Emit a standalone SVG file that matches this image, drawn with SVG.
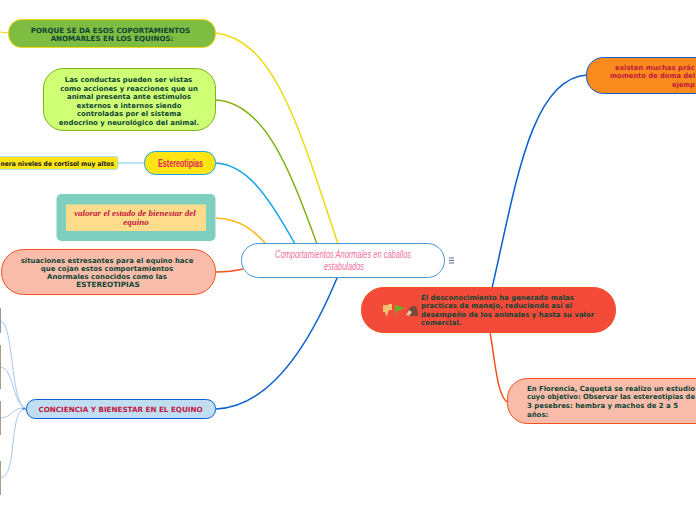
<svg xmlns="http://www.w3.org/2000/svg" width="696" height="520" viewBox="0 0 696 520">
<style>
.t{font-family:"DejaVu Sans",Verdana,sans-serif;font-weight:700;font-size:6.95px;text-anchor:middle;fill:#0f4535}
.u{font-size:7.1px}
.l{text-anchor:start}
.r{fill:#c2173f}
.c{fill:none;stroke-width:1.5}
.s{fill:none;stroke:#8fb8ee;stroke-width:.8}
.h{font-family:"Liberation Sans",sans-serif;font-style:italic;font-size:10.5px;text-anchor:middle;fill:#f06f9f}
.v{font-family:"Liberation Serif",serif;font-size:9px;font-weight:700;font-style:italic;text-anchor:middle;fill:#c2173f}
</style>
<rect width="696" height="520" fill="#fff"/>
<g id="connectors">
<path class="c" stroke="#f0d90e" d="M216 33C275 40 300 130 338 244"/>
<path class="c" stroke="#7fb211" d="M216 100C265 103 290 170 317 244"/>
<path class="c" stroke="#10a5ea" d="M216 163C245 165 265 190 295 244"/>
<path class="c" stroke="#fdb813" d="M216 218C238 219 252 228 266 244"/>
<path class="c" stroke="#f4511e" d="M216 272C228 272 235 271 243 269"/>
<path class="c" stroke="#0b5fd0" d="M216 409C265 407 305 355 337 278"/>
<path class="c" stroke="#0b5fd0" d="M492 288C515 190 530 78 587 75"/>
<path class="c" stroke="#f4511e" d="M490 332C495 360 497 395 507 402"/>
<path fill="none" stroke="#f0d90e" stroke-width="1" d="M0 32L9 33"/>
<path fill="none" stroke="#a8dcf2" stroke-width="1.500" d="M118 163H145"/>
<path class="s" d="M25 408C10 402 14 322 0 321"/>
<path class="s" d="M25 408C12 402 14 368 0 367"/>
<path class="s" d="M25 408C14 406 12 418 0 418"/>
<path class="s" d="M25 408C8 412 18 478 0 478"/>
<path fill="none" stroke="#0b5fd0" stroke-width="1" d="M22 409H27"/>
</g>
<g id="strips">
<rect x="0" y="308" width="1" height="25" fill="#8f9a9c"/>
<rect x="0" y="345" width="1" height="44" fill="#a59c8b"/>
<rect x="0" y="401" width="1" height="34" fill="#a59c8b"/>
<rect x="0" y="461" width="1" height="34" fill="#a59c8b"/>
</g>
<g id="n-central">
<rect x="241.500" y="243.500" width="203" height="34" rx="17" fill="#fff" stroke="#4a96d2"/>
<text class="h" x="343" y="258" textLength="136" lengthAdjust="spacingAndGlyphs">Comportamientos Anormales en caballos</text>
<text class="h" x="344" y="270" textLength="40" lengthAdjust="spacingAndGlyphs">estabulados</text>
<path fill="none" stroke="#4a5a8a" stroke-width=".9" d="M449 258H454M449 260.500H454M449 263H454"/>
</g>
<g id="n-porque">
<rect x="8.500" y="19.500" width="207" height="28" rx="13" fill="#7fbc42" stroke="#f0d90e"/>
<text class="t u" x="110.500" y="32.500">PORQUE SE DA ESOS COPORTAMIENTOS</text>
<text class="t u" x="112" y="40.500">ANOMARLES EN LOS EQUINOS:</text>
</g>
<g id="n-conductas">
<rect x="43.500" y="68.500" width="172" height="62" rx="20" fill="#ceff75" stroke="#7fb211"/>
<text class="t" x="128.500" y="81.500">Las conductas pueden ser vistas</text>
<text class="t" x="129" y="90.500">como acciones y reacciones que un</text>
<text class="t" x="129" y="98.500">animal presenta ante estímulos</text>
<text class="t" x="129" y="107.500">externos e internos siendo</text>
<text class="t" x="129" y="115.500">controladas por el sistema</text>
<text class="t" x="129" y="124.500">endocrino y neurológico del animal.</text>
</g>
<g id="n-cortisol">
<rect x="-20" y="156.500" width="138" height="13" rx="3" fill="#ffe414" stroke="#a8dcf2"/>
<text class="t l" x="0.500" y="165.500" textLength="113.500" lengthAdjust="spacingAndGlyphs" style="font-size:6.600px;fill:#14202a">nera niveles de cortisol muy altos</text>
</g>
<g id="n-estereotipias">
<rect x="144.500" y="151.500" width="71" height="23" rx="11" fill="#ffe414" stroke="#10a5ea"/>
<text x="180.500" y="166.500" textLength="45" lengthAdjust="spacingAndGlyphs" font-family="Liberation Sans,sans-serif" font-size="10.500" font-weight="700" text-anchor="middle" fill="#e0245e">Estereotipias</text>
</g>
<g id="n-valorar">
<rect x="56.500" y="194" width="159" height="47" rx="5" fill="#7fcfbf"/>
<rect x="66" y="204.500" width="140" height="26.500" fill="#ffdc8c"/>
<text class="v" x="135" y="216">valorar el estado de bienestar del</text>
<text class="v" x="136" y="225">equino</text>
</g>
<g id="n-situaciones">
<rect x="1.500" y="249.500" width="214" height="45" rx="22" fill="#f9bcaa" stroke="#f4511e"/>
<text class="t" x="107" y="262.500">situaciones estresantes para el equino hace</text>
<text class="t" x="107" y="270.500">que cojan estos comportamientos</text>
<text class="t" x="107" y="279">Anormales conocidos como las</text>
<text class="t" x="108" y="287" style="font-size:7.250px">ESTEREOTIPIAS</text>
</g>
<g id="n-conciencia">
<rect x="26.500" y="399.500" width="189" height="19" rx="9" fill="#c0ddf2" stroke="#0b5fd0"/>
<text class="t r" x="120.500" y="412" style="font-size:7.200px">CONCIENCIA Y BIENESTAR EN EL EQUINO</text>
</g>
<g id="n-desconocimiento">
<rect x="361.500" y="287.500" width="254" height="45" rx="22" fill="#f44a3a" stroke="#f4511e"/>
<text class="t l" x="421" y="300">El desconocimiento ha generado malas</text>
<text class="t l" x="421" y="308">practicas de manejo, reduciendo así el</text>
<text class="t l" x="421" y="317">desempeño de los animales y hasta su valor</text>
<text class="t l" x="421" y="325">comercial.</text>
<path fill="#f5c26b" d="M383 305h5l1-1h3v6h-3l-2 6h-1l-1-4h-2z"/>
<path fill="#5fb81e" d="M395 305l10 3-10 4z"/>
<rect x="394.500" y="305" width="1" height="11" fill="#a08050"/>
<path fill="#7a4a36" d="M407 316c-1-5 3-10 7-10 3 0 4 4 4 10z"/>
<path fill="#e8c4a0" d="M406 315l3-5 3 2-3 4z"/>
</g>
<g id="n-practicas">
<rect x="586.500" y="57.500" width="130" height="36" rx="17" fill="#f98a1e" stroke="#0b5fd0"/>
<text class="t r l" x="615" y="70" textLength="80" lengthAdjust="spacingAndGlyphs">existen muchas prác</text>
<text class="t r l" x="610" y="78" textLength="85" lengthAdjust="spacingAndGlyphs">momento de doma del</text>
<text class="t r l" x="672" y="87" textLength="23" lengthAdjust="spacingAndGlyphs">ejemp</text>
</g>
<g id="n-florencia">
<rect x="507.500" y="378.500" width="220" height="45" rx="20" fill="#f9bcaa" stroke="#f4511e"/>
<text class="t l" x="527" y="391" textLength="168" lengthAdjust="spacingAndGlyphs">En Florencia, Caquetá se realizo un estudio</text>
<text class="t l" x="527" y="399" textLength="168" lengthAdjust="spacingAndGlyphs">cuyo objetivo: Observar las estereotipias de</text>
<text class="t l" x="527" y="408">3 pesebres: hembra y machos de 2 a 5</text>
<text class="t l" x="527" y="416.500">años:</text>
</g>
</svg>
